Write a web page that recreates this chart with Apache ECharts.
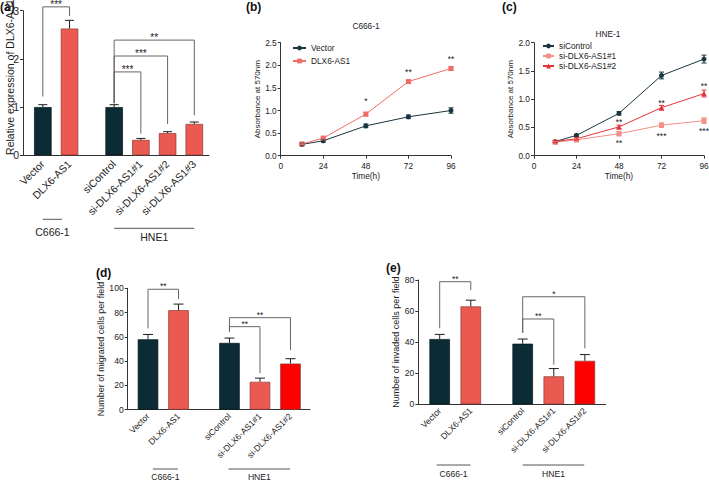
<!DOCTYPE html>
<html><head><meta charset="utf-8">
<script src="https://cdn.jsdelivr.net/npm/echarts@6/dist/echarts.min.js"></script>
<style>html,body{margin:0;padding:0;background:#fff}#c{width:709px;height:481px}</style>
</head><body><div id="c"></div>
<script>
// ================= DATA =================
// (a) relative expression
const aCategories = ['Vector','DLX6-AS1','siControl','si-DLX6-AS1#1','si-DLX6-AS1#2','si-DLX6-AS1#3'];
const aValues = [1.00, 2.63, 1.00, 0.32, 0.46, 0.65];
const aErrors = [0.05, 0.17, 0.05, 0.03, 0.03, 0.04];
const aBrackets = [[0,1,3.08,1.22,2.89],[2,5,2.39,1.08,0.83],[2,4,2.06,1.08,0.65],[2,3,1.73,1.08,0.45]];
const aBracketLabels = ['***','**','***','***'];
const aGroupNames = ['C666-1','HNE1'];

// (b) C666-1 proliferation
const timePoints = [12, 24, 48, 72, 96];
const bVector = [0.25, 0.33, 0.66, 0.86, 1.00];
const bVectorErr = [0.03, 0.03, 0.04, 0.04, 0.06];
const bDLX6 = [0.26, 0.39, 0.92, 1.64, 1.93];
const bDLX6Err = [0.02, 0.02, 0.04, 0.03, 0.04];
const bStarX = [48, 72, 96];
const bStarY = [1.25, 1.90, 2.19];
const bStarLabels = ['*','**','**'];

// (c) HNE-1 proliferation
const cSiControl = [0.25, 0.36, 0.75, 1.42, 1.71];
const cSiControlErr = [0.02, 0.02, 0.03, 0.06, 0.07];
const cSi1 = [0.24, 0.28, 0.39, 0.54, 0.62];
const cSi1Err = [0.02, 0.02, 0.04, 0.04, 0.05];
const cSi2 = [0.25, 0.30, 0.51, 0.85, 1.10];
const cSi2Err = [0.02, 0.02, 0.03, 0.04, 0.06];
const cStarX = [48, 72, 96, 48, 72, 96];
const cStarY = [0.63, 0.97, 1.27, 0.25, 0.38, 0.47];
const cStarLabels = ['**','**','**','**','***','***'];

// (d) migration, (e) invasion
const deCategories = ['Vector','DLX6-AS1','siControl','si-DLX6-AS1#1','si-DLX6-AS1#2'];
const dValues = [58, 82, 55, 23, 38];
const dErrors = [4, 5, 4, 3, 4];
const dBrackets = [[0,1,99.2,67,91],[2,4,75.8,64,49],[2,3,68.4,64,30]];
const dBracketLabels = ['**','**','**'];
const eValues = [42, 63, 39, 18, 28];
const eErrors = [3, 4, 3, 5, 4];
const eBrackets = [[0,1,78.9,49,73.5],[2,4,69.2,46,36],[2,3,54.9,46,25.5]];
const eBracketLabels = ['**','*','**'];
const deGroupNames = ['C666-1','HNE1'];

// ================= STYLE / LAYOUT =================
const FONT = '"Liberation Sans", Arial, Helvetica, sans-serif';
const C = {dark:'#0b2b35', salmon:'#ea5a50', red:'#fd0000', axis:'#333', text:'#222', bracket:'#666',
  lDark:'#1a3640', lSalmon:'#f06c66', lLight:'#f29089', lRed:'#e8323a'};
const aColors = [C.dark, C.salmon, C.dark, C.salmon, C.salmon, C.salmon];
const deColors = [C.dark, C.salmon, C.dark, C.salmon, C.red];

const LA = {left:23, top:10.7, width:186, height:144.6, slots:[1,2,3.67,4.67,5.67,6.67], xMin:0.258, xMax:7.22,
  yMax:3, yInt:1, barWidth:17.5, font:10.5, starFont:10, cap:4.5, labelMargin:7,
  groups:[{from:1,to:1.72,lineDy:64,textDy:77},{from:3.67,to:6.67,lineDy:73,textDy:82}]};
const LD = {left:127.7, top:288.3, width:182.3, height:121.4, slots:[1,2,3.67,4.67,5.67], xMin:0.334, xMax:6.31,
  yMax:100, yInt:20, barWidth:20.5, font:8.6, nameFont:9, starFont:8.5, cap:5, labelMargin:5,
  yName:'Number of migrated cells per field', nameGap:19,
  groups:[{from:1.16,to:1.98,lineDy:59.3,textDy:67.5},{from:3.64,to:5.66,lineDy:59.3,textDy:67.5}]};
const LE = {left:418.3, top:280, width:187.4, height:124.3, slots:[1,2,3.67,4.67,5.67], xMin:0.312, xMax:6.34,
  yMax:80, yInt:20, barWidth:20.5, font:8.6, nameFont:9, starFont:8.5, cap:5, labelMargin:5,
  yName:'Number of invaded cells per field', nameGap:15,
  groups:[{from:0.90,to:1.99,lineDy:60.7,textDy:70},{from:3.67,to:5.65,lineDy:60.7,textDy:70}]};
const LB = {left:280.7, top:42.7, width:170.3, height:113, yMax:2.5, nameGap:19};
const LC = {left:534, top:42.7, width:170, height:113, yMax:2.0, nameGap:19};

const grid = [], xAxis = [], yAxis = [], series = [];
const axLine = {show:true, onZero:false, lineStyle:{color:C.axis, width:1}};
const axTick = {show:true, length:3, lineStyle:{color:C.axis, width:1}};

function txt(text, x, y, fs, extra) {
  return Object.assign({type:'text', x:x, y:y, silent:true, style:{text:text, fill:C.text, fontSize:fs, fontFamily:FONT,
    align:'center', verticalAlign:'middle', textAlign:'center', textVerticalAlign:'middle'}}, extra||{});
}
function letter(text, x, y) {
  return {type:'text', x:x, y:y, silent:true, style:{text:text, fill:'#111', fontSize:12, fontWeight:'bold', fontFamily:FONT,
    align:'left', verticalAlign:'middle', textAlign:'left', textVerticalAlign:'middle'}};
}

function errSeries(gi, xs, ys, es, color, cap, both) {
  return {type:'custom', xAxisIndex:gi, yAxisIndex:gi, clip:false, silent:true, z:5,
    encode:{x:0, y:1},
    data: xs.map((x,i)=>[x, ys[i], es[i]]),
    renderItem:(p, api)=>{
      const x=api.value(0), y=api.value(1), e=api.value(2);
      const top=api.coord([x,y+e]), bot=both?api.coord([x,y-e]):api.coord([x,y]);
      const st={stroke:color, lineWidth:1};
      const ch=[{type:'line', shape:{x1:top[0],y1:top[1],x2:bot[0],y2:bot[1]}, style:st},
                {type:'line', shape:{x1:top[0]-cap,y1:top[1],x2:top[0]+cap,y2:top[1]}, style:st}];
      if (both) ch.push({type:'line', shape:{x1:bot[0]-cap,y1:bot[1],x2:bot[0]+cap,y2:bot[1]}, style:st});
      return {type:'group', children:ch};
    }};
}

function addBarPanel(gi, L, names, values, errors, colors, brackets, bLabels, groupNames) {
  grid.push({left:L.left, top:L.top, width:L.width, height:L.height, containLabel:false, outerBoundsMode:'none'});
  xAxis.push({gridIndex:gi, type:'value', min:L.xMin, max:L.xMax, axisLine:axLine, axisTick:{show:false},
    splitLine:{show:false},
    axisLabel:{show:true, customValues:L.slots, rotate:45, margin:L.labelMargin, fontSize:L.font, fontFamily:FONT, color:C.text,
      formatter:(v)=>{const i=L.slots.findIndex(s=>Math.abs(s-v)<1e-6); return i>=0?names[i]:'';}}});
  yAxis.push({gridIndex:gi, type:'value', min:0, max:L.yMax, interval:L.yInt, axisLine:axLine, axisTick:axTick,
    splitLine:{show:false}, axisLabel:{fontSize:L.font, fontFamily:FONT, color:C.text, margin:4},
    name:L.yName||'', nameLocation:'middle', nameGap:L.nameGap||0, nameTextStyle:{fontSize:L.nameFont||9, fontFamily:FONT, color:C.text}});
  series.push({type:'bar', name:'bars'+gi, xAxisIndex:gi, yAxisIndex:gi, barWidth:L.barWidth, silent:true, z:3,
    data: values.map((v,i)=>({value:[L.slots[i], v], itemStyle:{color:colors[i], borderColor:colors[i]===C.dark?'#06161c':'#8e3a33', borderWidth:0.7}}))});
  series.push(errSeries(gi, L.slots, values, errors, '#1e1e1e', L.cap, false));
  // significance brackets
  series.push({type:'custom', xAxisIndex:gi, yAxisIndex:gi, clip:false, silent:true, z:6,
    encode:{x:[0,1], y:[2,3,4]},
    data: brackets.map(b=>[L.slots[b[0]], L.slots[b[1]], b[2], b[3], b[4]]),
    renderItem:(p, api)=>{
      const x1=api.value(0), x2=api.value(1), t=api.value(2), lb=api.value(3), rb=api.value(4);
      const pt=api.coord([x1,t]), pr=api.coord([x2,t]), pl=api.coord([x1,lb]), prb=api.coord([x2,rb]);
      const st={stroke:C.bracket, lineWidth:1, fill:null};
      return {type:'group', children:[
        {type:'polyline', shape:{points:[[pl[0],pl[1]],[pt[0],pt[1]],[pr[0],pr[1]],[prb[0],prb[1]]]}, style:st},
        txt(bLabels[p.dataIndex], (pt[0]+pr[0])/2, pt[1]-5+0.22*L.starFont, L.starFont)
      ]};
    }});
  // group lines (cell lines)
  series.push({type:'custom', xAxisIndex:gi, yAxisIndex:gi, clip:false, silent:true,
    encode:{x:[0,1], y:2},
    data: L.groups.map(g=>[g.from, g.to, 0]),
    renderItem:(p, api)=>{
      const g=L.groups[p.dataIndex];
      const a=api.coord([api.value(0),0]), b=api.coord([api.value(1),0]);
      return {type:'group', children:[
        {type:'line', shape:{x1:a[0],y1:a[1]+g.lineDy,x2:b[0],y2:b[1]+g.lineDy}, style:{stroke:'#555', lineWidth:1}},
        txt(groupNames[p.dataIndex], (a[0]+b[0])/2, a[1]+g.textDy, L.font)
      ]};
    }});
}

function addLinePanel(gi, L, defs, starX, starY, starLabels) {
  grid.push({left:L.left, top:L.top, width:L.width, height:L.height, containLabel:false, outerBoundsMode:'none'});
  xAxis.push({gridIndex:gi, type:'value', min:0, max:96, interval:24, axisLine:axLine, axisTick:axTick, splitLine:{show:false},
    axisLabel:{fontSize:8.3, fontFamily:FONT, color:C.text, margin:6},
    name:'Time(h)', nameLocation:'middle', nameGap:16, nameTextStyle:{fontSize:8.3, fontFamily:FONT, color:C.text}});
  yAxis.push({gridIndex:gi, type:'value', min:0, max:L.yMax, interval:0.5, axisLine:axLine, axisTick:axTick, splitLine:{show:false},
    axisLabel:{fontSize:8.3, fontFamily:FONT, color:C.text, margin:4, formatter:v=>v.toFixed(1)},
    name:'Absorbance at 570nm', nameLocation:'middle', nameGap:L.nameGap, nameTextStyle:{fontSize:8, fontFamily:FONT, color:C.text}});
  defs.forEach(d=>{
    series.push({type:'line', name:d.name, xAxisIndex:gi, yAxisIndex:gi, data:timePoints.map((t,i)=>[t,d.values[i]]),
      symbol:d.symbol, symbolSize:d.size, showSymbol:true, silent:true, z:4,
      lineStyle:{width:1, color:d.color}, itemStyle:{color:d.color, borderWidth:0}});
    series.push(errSeries(gi, timePoints, d.values, d.errors, d.color, 2.5, true));
  });
  series.push({type:'custom', xAxisIndex:gi, yAxisIndex:gi, clip:false, silent:true, z:7, encode:{x:0,y:1},
    data: starX.map((x,i)=>[x, starY[i]]),
    renderItem:(p, api)=>{
      const c=api.coord([api.value(0), api.value(1)]);
      return txt(starLabels[p.dataIndex], c[0], c[1]+0.22*8.5, 8.5);
    }});
}

addBarPanel(0, LA, aCategories, aValues, aErrors, aColors, aBrackets, aBracketLabels, aGroupNames);
addLinePanel(1, LB, [
  {name:'Vector', values:bVector, errors:bVectorErr, color:C.lDark, symbol:'circle', size:5},
  {name:'DLX6-AS1', values:bDLX6, errors:bDLX6Err, color:C.lSalmon, symbol:'rect', size:5}
], bStarX, bStarY, bStarLabels);
addLinePanel(2, LC, [
  {name:'siControl', values:cSiControl, errors:cSiControlErr, color:C.lDark, symbol:'circle', size:5},
  {name:'si-DLX6-AS1#1', values:cSi1, errors:cSi1Err, color:C.lLight, symbol:'rect', size:5},
  {name:'si-DLX6-AS1#2', values:cSi2, errors:cSi2Err, color:C.lRed, symbol:'triangle', size:5.5}
], cStarX, cStarY, cStarLabels);
addBarPanel(3, LD, deCategories, dValues, dErrors, deColors, dBrackets, dBracketLabels, deGroupNames);
addBarPanel(4, LE, deCategories, eValues, eErrors, deColors, eBrackets, eBracketLabels, deGroupNames);

const legendText = {fontSize:8.3, fontFamily:FONT, color:C.text};
const option = {
  animation:false,
  backgroundColor:'#fff',
  grid, xAxis, yAxis, series,
  legend:[
    {data:['Vector','DLX6-AS1'], left:292, top:44, orient:'vertical', itemWidth:13, itemHeight:6, itemGap:5, textStyle:legendText, padding:0, selectedMode:false},
    {data:['siControl','si-DLX6-AS1#1','si-DLX6-AS1#2'], left:542, top:42, orient:'vertical', itemWidth:11, itemHeight:6, itemGap:2, textStyle:legendText, padding:0, selectedMode:false}
  ],
  graphic:[
    letter('(a)', 0, 7), letter('(b)', 246, 7), letter('(c)', 502, 7), letter('(d)', 96, 273), letter('(e)', 386, 268),
    txt('C666-1', 366, 26, 8.3),
    txt('HNE-1', 608, 34, 8.3),
    txt('Relative expression of DLX6-AS1', 10, 77, 10.5, {rotation:Math.PI/2})
  ]
};
const chart = echarts.init(document.getElementById('c'), null, {renderer:'svg'});
chart.setOption(option);
</script>
</body></html>
